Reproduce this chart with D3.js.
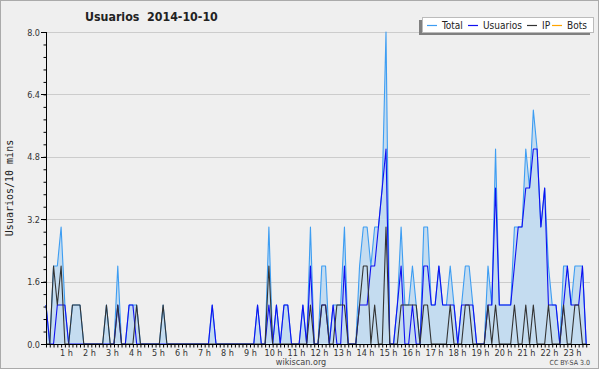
<!DOCTYPE html>
<html>
<head>
<meta charset="utf-8">
<script src="https://cdnjs.cloudflare.com/ajax/libs/d3/7.8.5/d3.min.js"></script>
<style>
  body { margin: 0; background: #fff; }
  svg { display: block; font-family: "DejaVu Sans Condensed", "DejaVu Sans", sans-serif; }
</style>
</head>
<body>
<svg width="600" height="370"></svg>
<script>
// one value every 10 minutes, 00:00 -> 23:50
var usuarios = [1,0,0,1,1,1,0,0,0,0, 0,0,0,0,0,0,0,0,0,1, 0,0,1,1,0,0,0,0,0,0,
  0,0,0,0,0,0,0,0,0,0, 0,0,0,0,1,0,0,0,0,0, 0,0,0,0,0,0,1,0,0,1,
  0,1,0,1,1,0,0,0,1,0, 2,0,0,1,1,0,1,0,0,2, 0,0,0,1,1,1,2,2,3,4,
  5,0,0,1,2,0,0,1,0,0, 2,2,1,1,2,1,1,1,1,0, 1,1,1,1,0,0,0,1,1,4,
  1,1,1,1,2,3,3,4,4,5, 5,3,4,1,1,1,0,1,2,1, 1,1,2,0]
var ip = [0,0,2,1,2,0,0,1,1,1, 0,0,0,0,0,0,1,0,0,1, 0,0,0,0,1,0,0,0,0,0,
  0,1,0,0,0,0,0,0,0,0, 0,0,0,0,0,0,0,0,0,0, 0,0,0,0,0,0,0,0,0,2,
  0,0,0,0,0,0,0,0,0,0, 1,0,0,1,1,0,0,1,1,1, 0,0,0,1,2,2,0,1,0,0,
  3,0,0,0,1,1,1,1,1,0, 1,1,0,0,0,0,0,1,0,0, 0,1,1,0,0,0,0,1,0,1,
  0,0,0,0,1,0,0,1,0,1, 0,0,0,1,0,0,0,1,0,0, 1,1,0,0]
var total = [1,0,2,2,3,1,0,1,1,1, 0,0,0,0,0,0,1,0,0,2, 0,0,1,1,1,0,0,0,0,0,
  0,1,0,0,0,0,0,0,0,0, 0,0,0,0,1,0,0,0,0,0, 0,0,0,0,0,0,1,0,0,3,
  0,1,0,1,1,0,0,0,1,0, 3,0,0,2,2,0,1,1,1,3, 0,0,0,2,3,3,2,3,3,4,
  8,0,0,1,3,1,1,2,1,0, 3,3,1,1,2,1,1,2,1,0, 1,2,2,1,0,0,0,2,1,5,
  1,1,1,1,3,3,3,5,4,6, 5,3,4,2,1,1,0,2,2,1, 2,2,2,0]
var bots = [0,0,0,0,0,0,0,0,0,0, 0,0,0,0,0,0,0,0,0,0, 0,0,0,0,0,0,0,0,0,0,
  0,0,0,0,0,0,0,0,0,0, 0,0,0,0,0,0,0,0,0,0, 0,0,0,0,0,0,0,0,0,0,
  0,0,0,0,0,0,0,0,0,0, 0,0,0,0,0,0,0,0,0,0, 0,0,0,0,0,0,0,0,0,0,
  0,0,0,0,0,0,0,0,0,0, 0,0,0,0,0,0,0,0,0,0, 0,0,0,0,0,0,0,0,0,0,
  0,0,0,0,0,0,0,0,0,0, 0,0,0,0,0,0,0,0,0,0, 0,0,0,0]
var hourLabels = ["1 h","2 h","3 h","4 h","5 h","6 h","7 h","8 h","9 h","10 h","11 h","12 h",
  "13 h","14 h","15 h","16 h","17 h","18 h","19 h","20 h","21 h","22 h","23 h"]
var yTicks = [0, 1.6, 3.2, 4.8, 6.4, 8.0]
var seriesNames = ["Total", "Usuarios", "IP", "Bots"]
var seriesColors = ["#3d9df2", "#1010f0", "#333333", "#ffa500"]

var svg = d3.select("svg")
var pLeft = 46, pRight = 590, pTop = 32, pBottom = 344

// frame
svg.append("rect")
  .attr("x", 0.5).attr("y", 0.5).attr("width", 598).attr("height", 368)
  .attr("fill", "#efefef").attr("stroke", "#aaaaaa")

var x = d3.scaleLinear().domain([0, 144]).range([pLeft, pRight])
var xLab = d3.scaleLinear().domain([0, 24]).range([43.5, 595.5])
var y = d3.scaleLinear().domain([0, 8]).range([pBottom, pTop])

// grid
svg.append("g").selectAll("line")
  .data(yTicks.slice(1))
  .enter().append("line")
  .attr("x1", pLeft).attr("x2", pRight)
  .attr("y1", d => Math.round(y(d)) + 0.5).attr("y2", d => Math.round(y(d)) + 0.5)
  .attr("stroke", "#cccccc")

// area + lines
var area = d3.area()
  .x((d, i) => x(i))
  .y0(y(0))
  .y1(d => y(d))
svg.append("path").datum(total)
  .attr("d", area)
  .attr("fill", "#c4dcf0")

var line = d3.line()
  .x((d, i) => x(i))
  .y(d => y(d))
var series = [total, usuarios, ip, bots]
series.forEach(function (s, k) {
  if (k == 3) return // bots stay at zero, hidden under the axis
  svg.append("path").datum(s)
    .attr("d", line)
    .attr("fill", "none")
    .attr("stroke", seriesColors[k])
    .attr("stroke-width", 1.1)
    .attr("stroke-linejoin", "round")
})

// y axis
var yAxis = d3.axisLeft(y).tickValues(d3.range(0, 8.01, 0.32)).tickSize(3).tickFormat("")
var gy = svg.append("g").attr("transform", "translate(" + (pLeft + 0.5) + ",0)").call(yAxis)
gy.selectAll("path,line").attr("stroke", "#000")
gy.select(".domain").attr("d", "M0," + pTop + "V" + pBottom)
svg.append("g").selectAll("line").data(yTicks).enter().append("line")
  .attr("x1", pLeft - 5).attr("x2", pLeft)
  .attr("y1", d => Math.round(y(d)) + 0.5).attr("y2", d => Math.round(y(d)) + 0.5)
  .attr("stroke", "#000")
svg.append("g").selectAll("text").data(yTicks).enter().append("text")
  .attr("x", pLeft - 6).attr("y", d => y(d) + 3.5)
  .attr("text-anchor", "end")
  .attr("font-size", 9).attr("fill", "#333")
  .text(d => d.toFixed(1))

// x axis
var xAxis = d3.axisBottom(x).tickValues(d3.range(0, 144)).tickSize(3).tickFormat("")
var gx = svg.append("g").attr("transform", "translate(0," + (pBottom + 0.5) + ")").call(xAxis)
gx.selectAll("path,line").attr("stroke", "#000")
gx.select(".domain").attr("d", "M" + pLeft + ",0H" + pRight)
svg.append("g").selectAll("text").data(hourLabels).enter().append("text")
  .attr("x", (d, i) => xLab(i + 1))
  .attr("y", pBottom + 12)
  .attr("text-anchor", "middle")
  .attr("font-size", 9).attr("fill", "#333")
  .text(d => d)

// titles
svg.append("text").attr("x", 85).attr("y", 21)
  .attr("font-size", 12.3).attr("font-weight", "bold").attr("fill", "#222")
  .attr("xml:space", "preserve")
  .text("Usuarios  2014-10-10")
svg.append("text")
  .attr("transform", "translate(13," + ((pTop + pBottom) / 2) + ") rotate(-90)")
  .attr("text-anchor", "middle").attr("font-size", 10).attr("fill", "#222")
  .attr("font-family", "DejaVu Sans Mono")
  .text("Usuarios/10 mins")
svg.append("text").attr("x", 301).attr("y", 365)
  .attr("text-anchor", "middle").attr("font-size", 9).attr("fill", "#444")
  .text("wikiscan.org")
svg.append("text").attr("x", 590).attr("y", 365)
  .attr("text-anchor", "end").attr("font-size", 7).attr("fill", "#444")
  .text("CC BY-SA 3.0")

// legend
var lg = svg.append("g").attr("transform", "translate(422,17)")
lg.append("rect").attr("x", -3).attr("y", 3).attr("width", 171).attr("height", 15).attr("fill", "#808080")
lg.append("rect").attr("x", 0.5).attr("y", 0.5).attr("width", 171).attr("height", 15)
  .attr("fill", "#fff").attr("stroke", "#bbb")
var lx = [5, 46, 105, 130]
seriesNames.forEach(function (n, k) {
  lg.append("line").attr("x1", lx[k]).attr("x2", lx[k] + 10)
    .attr("y1", 8.5).attr("y2", 8.5).attr("stroke", seriesColors[k]).attr("stroke-width", 1.2)
  lg.append("text").attr("x", lx[k] + 15).attr("y", 12)
    .attr("font-size", 10).attr("fill", "#222").text(n)
})
</script>
</body>
</html>
